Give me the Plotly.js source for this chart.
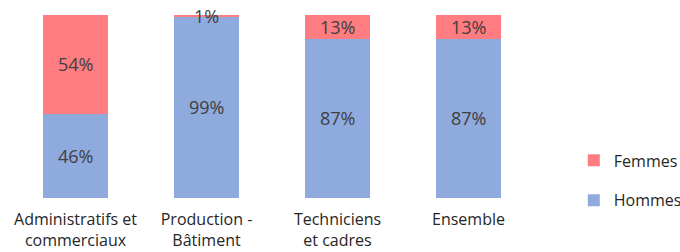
<!DOCTYPE html>
<html>
<head>
<meta charset="utf-8">
<script src="https://cdn.plot.ly/plotly-3.0.1.min.js"></script>
<style>html,body{margin:0;padding:0;background:#fff;}#chart{width:680px;height:252px;}</style>
</head>
<body>
<div id="chart"></div>
<script>
const categories = ["Administratifs et<br>commerciaux", "Production -<br>Bâtiment", "Techniciens<br>et cadres", "Ensemble"];
const hommes = [46, 99, 87, 87];
const femmes = [54, 1, 13, 13];
const seriesNames = ["Hommes", "Femmes"];
const colors = ["#8FAADC", "#FF7C80"];

const font = "'Open Sans', sans-serif";
const txtColor = "#404040";

const traces = [
  {type: "bar", name: seriesNames[0], x: categories, y: hommes, marker: {color: colors[0]},
   legendgroup: "h", legendrank: 2, textposition: "none", hoverinfo: "skip"},
  {type: "bar", name: seriesNames[1], x: categories, y: femmes, marker: {color: colors[1]},
   legendgroup: "f", legendrank: 1, textposition: "none", hoverinfo: "skip"}
];

const annotations = [];
categories.forEach((c, i) => {
  annotations.push({x: c, y: hommes[i] / 2, text: hommes[i] + "%", showarrow: false,
    font: {family: font, size: 18, color: txtColor}});
  annotations.push({x: c, y: hommes[i] + femmes[i] / 2, text: femmes[i] + "%", showarrow: false,
    font: {family: font, size: 18, color: txtColor}});
});

const layout = {
  width: 680, height: 252,
  margin: {l: 10, r: 146, t: 15, b: 54, autoexpand: false},
  barmode: "stack",
  bargap: 0.5,
  paper_bgcolor: "#fff", plot_bgcolor: "#fff",
  font: {family: font, color: txtColor},
  xaxis: {showgrid: false, zeroline: false, showline: false, ticks: "", automargin: false,
    ticklabelstandoff: 10,
    tickfont: {family: font, size: 16, color: "#262626"}},
  yaxis: {range: [0, 100], visible: false, fixedrange: true},
  showlegend: true,
  legend: {x: 1.076, y: 0.096, xanchor: "left", yanchor: "middle", traceorder: "grouped",
    tracegroupgap: 16, font: {family: font, size: 16, color: "#262626"}},
  annotations: annotations
};

Plotly.newPlot("chart", traces, layout, {staticPlot: true});
</script>
</body>
</html>
